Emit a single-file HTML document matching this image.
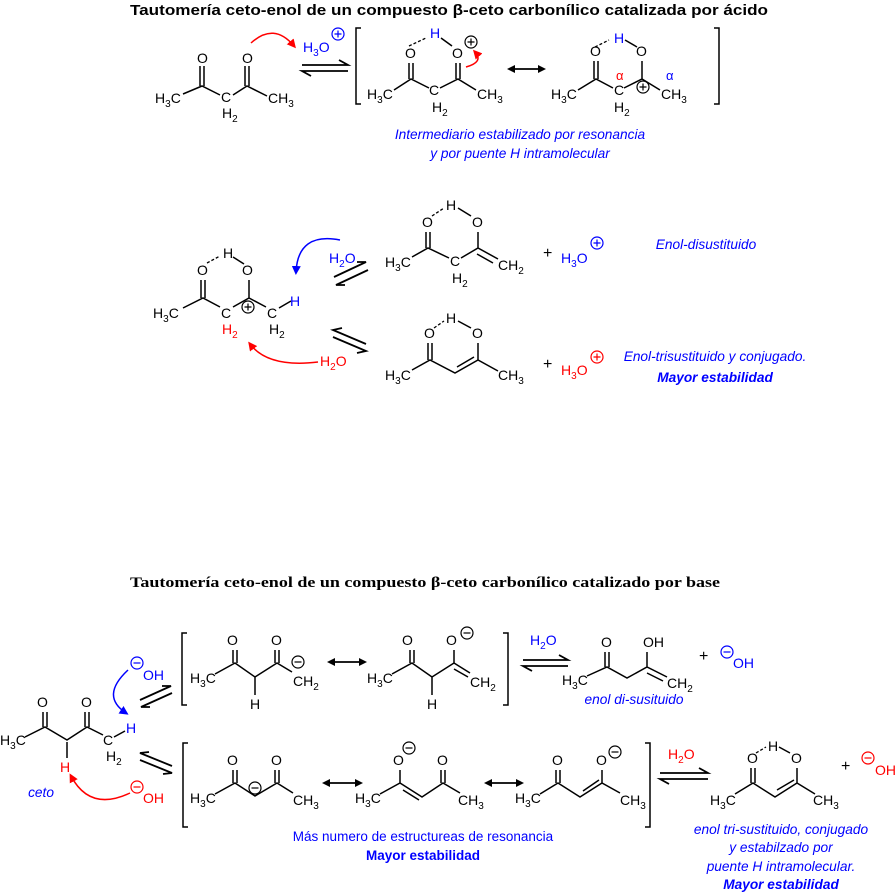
<!DOCTYPE html>
<html><head><meta charset="utf-8">
<style>
html,body{margin:0;padding:0;background:#fff;}
svg{display:block;}
text{font-family:"Liberation Sans",sans-serif;font-size:14px;}
.b{fill:#00f}.r{fill:#f00}
.it{font-style:italic;font-size:13.7px;fill:#00f}
.bd{font-weight:bold}
.bond{stroke:#000;stroke-width:1.5;fill:none}
.dash{stroke:#000;stroke-width:1.3;stroke-dasharray:3,2;fill:none}
.eq{stroke:#000;stroke-width:1.8;fill:none}
</style></head><body>
<svg width="896" height="893" viewBox="0 0 896 893" xmlns="http://www.w3.org/2000/svg">
<defs>
<marker id="mk" markerWidth="8" markerHeight="8" refX="6" refY="4" orient="auto" markerUnits="userSpaceOnUse"><path d="M0,0 L8,4 L0,8 z" fill="#000"/></marker>
<marker id="mks" markerWidth="8" markerHeight="8" refX="2" refY="4" orient="auto" markerUnits="userSpaceOnUse"><path d="M8,0 L0,4 L8,8 z" fill="#000"/></marker>
<marker id="mr" markerWidth="9" markerHeight="9" refX="6" refY="4.5" orient="auto" markerUnits="userSpaceOnUse"><path d="M0,0 L9,4.5 L0,9 z" fill="#f00"/></marker>
<marker id="mb" markerWidth="9" markerHeight="9" refX="6" refY="4.5" orient="auto" markerUnits="userSpaceOnUse"><path d="M0,0 L9,4.5 L0,9 z" fill="#00f"/></marker>
</defs>

<!-- Titles -->
<text x="130" y="15" class="bd" style="font-family:'Liberation Sans',sans-serif;font-size:15px" textLength="638" lengthAdjust="spacingAndGlyphs">Tautomería ceto-enol de un compuesto β-ceto carbonílico catalizada por ácido</text>
<text x="130" y="587" class="bd" style="font-family:'Liberation Serif',serif;font-size:15px" textLength="590" lengthAdjust="spacingAndGlyphs">Tautomería ceto-enol de un compuesto β-ceto carbonílico catalizado por base</text>

<!-- ===== ACID: M1 ===== -->
<text x="155" y="103">H<tspan dy="4" font-size="10">3</tspan><tspan dy="-4">C</tspan></text>
<text x="197" y="63">O</text><text x="242" y="63">O</text>
<text x="221" y="102">C</text><text x="222" y="118">H<tspan dy="4" font-size="10">2</tspan></text>
<text x="268" y="103">CH<tspan dy="4" font-size="10">3</tspan></text>
<path class="bond" d="M183,94 L202,86 L220,95 M233,95 L247,86 L267,96 M200,86 V66 M204,86 V66 M245,86 V66 M249,86 V66"/>
<path d="M251,43 Q274,22 294,46" stroke="#f00" stroke-width="1.5" fill="none" marker-end="url(#mr)"/>
<text x="303" y="52" class="b">H<tspan dy="4" font-size="10">3</tspan><tspan dy="-4">O</tspan></text>
<g stroke="#00f" fill="none" stroke-width="1.2"><circle cx="338" cy="34" r="6"/><path d="M334.5,34 H341.5 M338,30.5 V37.5"/></g>
<path class="eq" d="M302,65 H348 L339,60 M348,71 H302 L311,76"/>

<path class="bond" d="M361,28 H356 V104 H361 M714,28 H719 V104 H714"/>
<!-- Int1 -->
<text x="405" y="58">O</text><text x="430" y="38" class="b">H</text><text x="452" y="58">O</text>
<path class="dash" d="M409,46 L426,38"/><path class="bond" d="M441,38 L452,46"/>
<g stroke="#000" fill="none" stroke-width="1.2"><circle cx="471" cy="42" r="6"/><path d="M467.5,42 H474.5 M471,38.5 V45.5"/></g>
<text x="367" y="99">H<tspan dy="4" font-size="10">3</tspan><tspan dy="-4">C</tspan></text>
<path class="bond" d="M394,90 L411,79 L429,88 M440,88 L458,79 L476,90 M409,79 V63 M413,79 V63 M456,79 V63 M460,79 V63"/>
<text x="429" y="95">C</text><text x="432" y="112">H<tspan dy="4" font-size="10">2</tspan></text>
<text x="477" y="99">CH<tspan dy="4" font-size="10">3</tspan></text>
<path d="M466,67 Q484,62 475,52" stroke="#f00" stroke-width="1.5" fill="none" marker-end="url(#mr)"/>
<path d="M509,69 H544" stroke="#000" stroke-width="1.8" marker-start="url(#mks)" marker-end="url(#mk)"/>
<!-- Int2 -->
<text x="590" y="56">O</text><text x="614" y="43" class="b">H</text><text x="636" y="56">O</text>
<path class="dash" d="M595,47 L609,40"/><path class="bond" d="M625,40 L637,47"/>
<text x="551" y="99">H<tspan dy="4" font-size="10">3</tspan><tspan dy="-4">C</tspan></text>
<path class="bond" d="M578,90 L596,79 L613,88 M624,88 L642,79 L660,90 M594,79 V61 M598,79 V61 M642,79 V61"/>
<text x="614" y="95">C</text><text x="614" y="112">H<tspan dy="4" font-size="10">2</tspan></text>
<text x="616" y="80" class="r" style="font-size:13px">α</text><text x="666" y="80" class="b" style="font-size:13px">α</text>
<g stroke="#000" fill="#fff" stroke-width="1.2"><circle cx="643" cy="87" r="6"/><path d="M639.5,87 H646.5 M643,83.5 V90.5"/></g>
<text x="661" y="99">CH<tspan dy="4" font-size="10">3</tspan></text>
<text x="520" y="139" class="it" text-anchor="middle">Intermediario estabilizado por resonancia</text>
<text x="520" y="158" class="it" text-anchor="middle">y por puente H intramolecular</text>

<!-- ===== ACID middle: cation ===== -->
<text x="197" y="275">O</text><text x="223" y="258">H</text><text x="242" y="275">O</text>
<path class="dash" d="M207,263 L220,256"/><path class="bond" d="M233,257 L244,264"/>
<path class="bond" d="M183,308 L203,298 L220,307 M233,307 L249,298 L266,307 M279,308 L291,301 M201,298 V280 M205,298 V280 M249,298 V280"/>
<text x="153" y="318">H<tspan dy="4" font-size="10">3</tspan><tspan dy="-4">C</tspan></text>
<text x="221" y="318">C</text><text x="222" y="334" class="r">H<tspan dy="4" font-size="10">2</tspan></text>
<g stroke="#000" fill="#fff" stroke-width="1.2"><circle cx="248" cy="307" r="6"/><path d="M244.5,307 H251.5 M248,303.5 V310.5"/></g>
<text x="267" y="318">C</text><text x="269" y="334">H<tspan dy="4" font-size="10">2</tspan></text>
<text x="290" y="306" class="b">H</text>
<path d="M340,240 Q298,232 296,272" stroke="#00f" stroke-width="1.5" fill="none" marker-end="url(#mb)"/>
<text x="329" y="263" class="b">H<tspan dy="4" font-size="10">2</tspan><tspan dy="-4">O</tspan></text>
<path class="eq" d="M334,277 L366,262 L357,262 M368,270 L336,285 L345,285"/>
<path d="M318,362 Q268,368 250,344" stroke="#f00" stroke-width="1.5" fill="none" marker-end="url(#mr)"/>
<text x="320" y="366" class="r">H<tspan dy="4" font-size="10">2</tspan><tspan dy="-4">O</tspan></text>
<path class="eq" d="M333,337 L366,351 L357,353 M366,344 L333,330 L342,328"/>

<!-- Product 1 -->
<text x="422" y="227">O</text><text x="446" y="210">H</text><text x="472" y="227">O</text>
<path class="dash" d="M432,216 L444,208"/><path class="bond" d="M458,208 L471,216"/>
<path class="bond" d="M412,257 L428,248 L449,258 M461,258 L478,248 L498,259 M426,248 V232 M430,248 V232 M478,248 V232 M477,254 L493,263"/>
<text x="385" y="267">H<tspan dy="4" font-size="10">3</tspan><tspan dy="-4">C</tspan></text>
<text x="450" y="266">C</text><text x="452" y="283">H<tspan dy="4" font-size="10">2</tspan></text>
<text x="498" y="270">CH<tspan dy="4" font-size="10">2</tspan></text>
<text x="543" y="258" style="font-size:16px">+</text>
<text x="561" y="263" class="b">H<tspan dy="4" font-size="10">3</tspan><tspan dy="-4">O</tspan></text>
<g stroke="#00f" fill="none" stroke-width="1.2"><circle cx="597" cy="243" r="6"/><path d="M593.5,243 H600.5 M597,239.5 V246.5"/></g>
<text x="706" y="249" class="it" text-anchor="middle">Enol-disustituido</text>

<!-- Product 2 -->
<text x="424" y="338">O</text><text x="446" y="323">H</text><text x="472" y="338">O</text>
<path class="dash" d="M434,328 L444,321"/><path class="bond" d="M458,321 L471,328"/>
<path class="bond" d="M412,370 L430,360 L455,373 L478,360 L498,371 M428,360 V343 M432,360 V343 M478,360 V343 M457,367 L474,357"/>
<text x="385" y="380">H<tspan dy="4" font-size="10">3</tspan><tspan dy="-4">C</tspan></text>
<text x="498" y="380">CH<tspan dy="4" font-size="10">3</tspan></text>
<text x="543" y="369" style="font-size:16px">+</text>
<text x="561" y="375" class="r">H<tspan dy="4" font-size="10">3</tspan><tspan dy="-4">O</tspan></text>
<g stroke="#f00" fill="none" stroke-width="1.2"><circle cx="597" cy="357" r="6"/><path d="M593.5,357 H600.5 M597,353.5 V360.5"/></g>
<text x="715" y="361" class="it" text-anchor="middle">Enol-trisustituido y conjugado.</text>
<text x="715" y="382" class="it bd" text-anchor="middle">Mayor estabilidad</text>

<!-- ===== BASE ===== -->
<text x="37" y="707">O</text><text x="81" y="707">O</text>
<text x="0" y="745">H<tspan dy="4" font-size="10">3</tspan><tspan dy="-4">C</tspan></text>
<path class="bond" d="M25,737 L45,727 L67,740 L87,727 L103,735 M43,727 V712 M47,727 V712 M85,727 V712 M89,727 V712 M67,742 V758 M114,737 L125,731"/>
<text x="60" y="772" class="r">H</text>
<text x="103" y="745">C</text><text x="106" y="761">H<tspan dy="4" font-size="10">2</tspan></text>
<text x="126" y="733" class="b">H</text>
<text x="41" y="797" class="it" text-anchor="middle">ceto</text>
<path d="M128,670 Q100,696 126,713" stroke="#00f" stroke-width="1.5" fill="none" marker-end="url(#mb)"/>
<g stroke="#00f" fill="none" stroke-width="1.2"><circle cx="137" cy="663" r="6"/><path d="M133.5,663 H140.5"/></g>
<text x="143" y="680" class="b">OH</text>
<path class="eq" d="M140,700 L171,686 L162,686 M172,693 L141,707 L150,707"/>
<path d="M130,793 Q90,812 71,776" stroke="#f00" stroke-width="1.5" fill="none" marker-end="url(#mr)"/>
<g stroke="#f00" fill="none" stroke-width="1.2"><circle cx="137" cy="787" r="6"/><path d="M133.5,787 H140.5"/></g>
<text x="143" y="803" class="r">OH</text>
<path class="eq" d="M140,760 L172,773 L163,774 M172,766 L140,753 L149,752"/>

<path class="bond" d="M187,633 H182 V705 H187 M503,633 H508 V705 H503"/>
<text x="227" y="645">O</text><text x="271" y="645">O</text>
<text x="190" y="683">H<tspan dy="4" font-size="10">3</tspan><tspan dy="-4">C</tspan></text>
<path class="bond" d="M215,674 L235,663 L255,677 L277,663 L292,672 M233,663 V650 M237,663 V650 M275,663 V650 M279,663 V650 M255,677 V695"/>
<text x="250" y="709">H</text>
<g stroke="#000" fill="none" stroke-width="1.2"><circle cx="298" cy="662" r="6"/><path d="M294.5,662 H301.5"/></g>
<text x="293" y="686">CH<tspan dy="4" font-size="10">2</tspan></text>
<path d="M329,662 H365" stroke="#000" stroke-width="1.8" marker-start="url(#mks)" marker-end="url(#mk)"/>
<text x="402" y="645">O</text><text x="446" y="645">O</text>
<g stroke="#000" fill="none" stroke-width="1.2"><circle cx="467" cy="633" r="6"/><path d="M463.5,633 H470.5"/></g>
<text x="367" y="683">H<tspan dy="4" font-size="10">3</tspan><tspan dy="-4">C</tspan></text>
<path class="bond" d="M392,674 L412,663 L432,677 L454,663 L470,673 M410,663 V650 M414,663 V650 M454,663 V650 M454,669 L468,677 M432,677 V695"/>
<text x="427" y="709">H</text>
<text x="470" y="687">CH<tspan dy="4" font-size="10">2</tspan></text>
<text x="530" y="645" class="b">H<tspan dy="4" font-size="10">2</tspan><tspan dy="-4">O</tspan></text>
<path class="eq" d="M523,660 H568 L559,655 M568,666 H523 L532,671"/>
<text x="601" y="647">O</text><text x="643" y="647">OH</text>
<text x="562" y="685">H<tspan dy="4" font-size="10">3</tspan><tspan dy="-4">C</tspan></text>
<path class="bond" d="M587,676 L607,667 L627,678 L647,667 L667,677 M605,667 V652 M609,667 V652 M647,667 V652 M647,673 L663,681"/>
<text x="667" y="688">CH<tspan dy="4" font-size="10">2</tspan></text>
<text x="699" y="661" style="font-size:16px">+</text>
<g stroke="#00f" fill="none" stroke-width="1.2"><circle cx="727" cy="652" r="6"/><path d="M723.5,652 H730.5"/></g>
<text x="733" y="668" class="b">OH</text>
<text x="634" y="704" class="it" text-anchor="middle">enol di-susituido</text>

<path class="bond" d="M188,743 H183 V827 H188 M645,743 H650 V827 H645"/>
<text x="227" y="765">O</text><text x="271" y="765">O</text>
<text x="190" y="803">H<tspan dy="4" font-size="10">3</tspan><tspan dy="-4">C</tspan></text>
<path class="bond" d="M215,794 L235,783 L255,796 L277,783 L293,793 M233,783 V770 M237,783 V770 M275,783 V770 M279,783 V770"/>
<g stroke="#000" fill="#fff" stroke-width="1.2"><circle cx="255" cy="788" r="6"/><path d="M251.5,788 H258.5"/></g>
<text x="293" y="805">CH<tspan dy="4" font-size="10">3</tspan></text>
<path d="M324,783 H361" stroke="#000" stroke-width="1.8" marker-start="url(#mks)" marker-end="url(#mk)"/>
<text x="393" y="765">O</text>
<g stroke="#000" fill="none" stroke-width="1.2"><circle cx="409" cy="748" r="6"/><path d="M405.5,748 H412.5"/></g>
<text x="437" y="765">O</text>
<text x="355" y="803">H<tspan dy="4" font-size="10">3</tspan><tspan dy="-4">C</tspan></text>
<path class="bond" d="M380,794 L400,783 L422,797 L443,783 L460,793 M400,783 V770 M441,783 V770 M445,783 V770 M403,790 L419,800"/>
<text x="458" y="805">CH<tspan dy="4" font-size="10">3</tspan></text>
<path d="M486,783 H522" stroke="#000" stroke-width="1.8" marker-start="url(#mks)" marker-end="url(#mk)"/>
<text x="515" y="803">H<tspan dy="4" font-size="10">3</tspan><tspan dy="-4">C</tspan></text>
<text x="552" y="765">O</text><text x="596" y="765">O</text>
<g stroke="#000" fill="none" stroke-width="1.2"><circle cx="615" cy="752" r="6"/><path d="M611.5,752 H618.5"/></g>
<path class="bond" d="M540,794 L558,783 L580,797 L602,783 L620,793 M556,783 V770 M560,783 V770 M602,783 V770 M583,791 L599,780"/>
<text x="620" y="805">CH<tspan dy="4" font-size="10">3</tspan></text>
<text x="423" y="841" class="b" style="font-size:13.5px" text-anchor="middle">Más numero de estructureas de resonancia</text>
<text x="423" y="860" class="b bd" style="font-size:13.5px" text-anchor="middle">Mayor estabilidad</text>
<text x="668" y="759" class="r">H<tspan dy="4" font-size="10">2</tspan><tspan dy="-4">O</tspan></text>
<path class="eq" d="M660,773 H708 L699,768 M708,779 H660 L669,784"/>
<text x="747" y="763">O</text><text x="768" y="751">H</text><text x="791" y="763">O</text>
<path class="dash" d="M756,753 L766,747"/><path class="bond" d="M779,747 L790,753"/>
<text x="710" y="805">H<tspan dy="4" font-size="10">3</tspan><tspan dy="-4">C</tspan></text>
<path class="bond" d="M735,794 L753,783 L775,797 L797,783 L815,794 M751,783 V768 M755,783 V768 M797,783 V768 M777,790 L794,780"/>
<text x="813" y="805">CH<tspan dy="4" font-size="10">3</tspan></text>
<text x="841" y="771" style="font-size:16px">+</text>
<g stroke="#f00" fill="none" stroke-width="1.2"><circle cx="868" cy="758" r="6"/><path d="M864.5,758 H871.5"/></g>
<text x="875" y="775" class="r">OH</text>
<text x="781" y="834" class="it" text-anchor="middle">enol tri-sustituido, conjugado</text>
<text x="781" y="852" class="it" text-anchor="middle">y estabilzado por</text>
<text x="781" y="871" class="it" text-anchor="middle">puente H intramolecular.</text>
<text x="781" y="889" class="it bd" text-anchor="middle">Mayor estabilidad</text>
</svg>
</body></html>
